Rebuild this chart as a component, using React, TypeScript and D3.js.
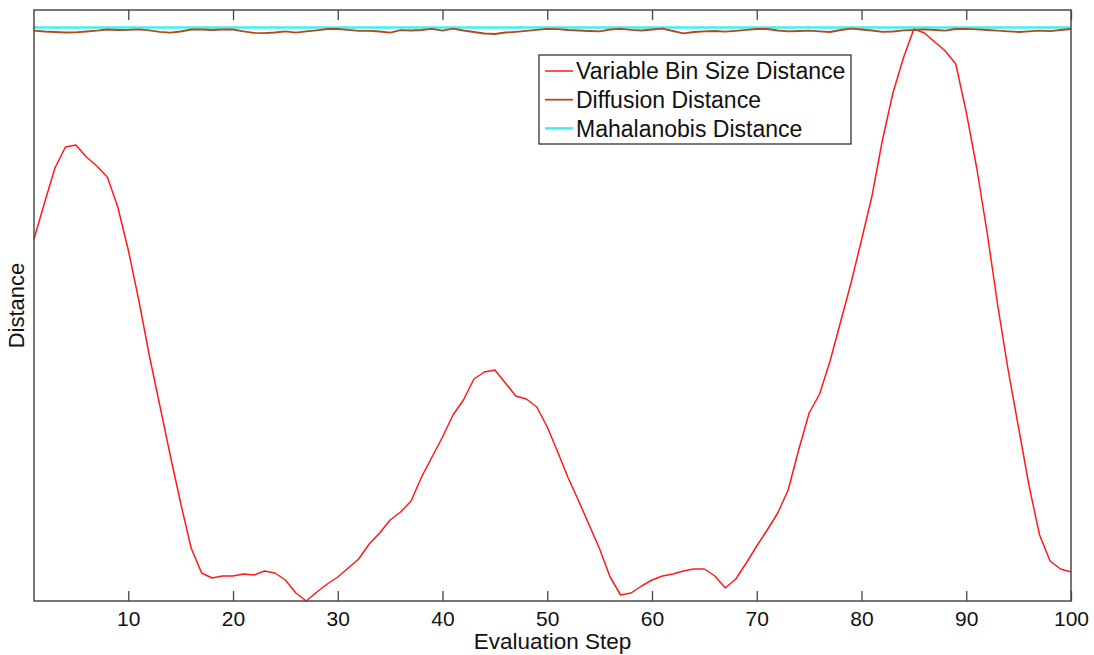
import React, { useEffect, useRef } from "react";
import * as d3 from "d3";

// Evaluation steps 1..100 (arbitrary distance units)
const variableBinSize = [
  362, 398, 433, 454, 456, 444, 435, 424, 394, 351,
  301, 246, 196, 146, 98, 53, 28, 23, 25, 25,
  27, 26, 30, 28, 21, 8, 0, 9, 17, 24,
  33, 42, 57, 68, 81, 89, 100, 124, 144, 164,
  186, 201, 222, 229, 231, 218, 205, 202, 194, 174,
  149, 123, 100, 76, 52, 24, 6, 8, 15, 21,
  25, 27, 30, 32, 32, 25, 13, 22, 38, 55,
  71, 88, 111, 151, 188, 207, 240, 279, 318, 361,
  405, 461, 508, 543, 572, 568, 559, 550, 537, 489,
  433, 368, 296, 231, 173, 115, 66, 40, 32, 29,
];

const diffusion = [
  570.3, 569.5, 569, 568.5, 568.7, 569.5, 570.3, 571.5, 571, 571.2,
  571.7, 570.7, 569.2, 568.3, 569.5, 571.5, 571.5, 571, 571.5, 571.5,
  569.7, 568.2, 567.8, 568.5, 569.7, 568.3, 569.6, 570.7, 572, 572,
  571.2, 570.2, 570.2, 569.5, 568.3, 570.8, 570.5, 571, 572.1, 570.3,
  572.3, 570.5, 569, 567.5, 567, 568.5, 569.2, 570.1, 571.2, 572.2,
  571.8, 571, 570.5, 570, 569.7, 571.5, 572.2, 571.2, 570.5, 571.5,
  572.3, 570, 567.7, 569, 569.7, 570, 569.3, 570.2, 571.2, 572,
  572, 570.5, 569.7, 570, 570.3, 569.7, 569, 571, 572.3, 571.5,
  570.5, 569.2, 569.5, 570.7, 571, 571.7, 571, 570.3, 572, 572.2,
  571.7, 571, 570.3, 569.7, 569, 569.7, 570.3, 569.8, 571, 572,
];

const mahalanobis = [
  573.5, 573.5, 573.5, 573.5, 573.5, 573.5, 573.5, 573.5, 573.5, 573.5,
  573.5, 573.5, 573.5, 573.5, 573.5, 573.5, 573.5, 573.5, 573.5, 573.5,
  573.5, 573.5, 573.5, 573.5, 573.5, 573.5, 573.5, 573.5, 573.5, 573.5,
  573.5, 573.5, 573.5, 573.5, 573.5, 573.5, 573.5, 573.5, 573.5, 573.5,
  573.5, 573.5, 573.5, 573.5, 573.5, 573.5, 573.5, 573.5, 573.5, 573.5,
  573.5, 573.5, 573.5, 573.5, 573.5, 573.5, 573.5, 573.5, 573.5, 573.5,
  573.5, 573.5, 573.5, 573.5, 573.5, 573.5, 573.5, 573.5, 573.5, 573.5,
  573.5, 573.5, 573.5, 573.5, 573.5, 573.5, 573.5, 573.5, 573.5, 573.5,
  573.5, 573.5, 573.5, 573.5, 573.5, 573.5, 573.5, 573.5, 573.5, 573.5,
  573.5, 573.5, 573.5, 573.5, 573.5, 573.5, 573.5, 573.5, 573.5, 573.5,
];

const xTicks = [10, 20, 30, 40, 50, 60, 70, 80, 90, 100];

const seriesNames = [
  "Variable Bin Size Distance",
  "Diffusion Distance",
  "Mahalanobis Distance",
];
const seriesColors = ["#ff1a1a", "#b04a1c", "#40f0f0"];
const seriesWidths = [1.5, 1.8, 2.5];

const FONT = "'Liberation Sans', Arial, Helvetica, sans-serif";

export default function App() {
  const svgRef = useRef<SVGSVGElement>(null);

  useEffect(() => {
    const width = 1094;
    const height = 655;
    const margin = { top: 10, right: 23, bottom: 54, left: 34 };
    const innerW = width - margin.left - margin.right;
    const innerH = height - margin.top - margin.bottom;

    const svg = d3.select(svgRef.current);
    svg.selectAll("*").remove();
    svg.attr("width", width).attr("height", height);

    const g = svg
      .append("g")
      .attr("transform", `translate(${margin.left},${margin.top})`);

    const x = d3.scaleLinear().domain([1, 100]).range([0, innerW]);
    const y = d3.scaleLinear().domain([0, 591]).range([innerH, 0]);

    const line = d3
      .line<number>()
      .x((d, i) => x(i + 1))
      .y((d) => y(d));

    // draw Mahalanobis first so the diffusion wiggle sits on it
    const drawOrder = [2, 0, 1];
    const allSeries = [variableBinSize, diffusion, mahalanobis];
    drawOrder.forEach((k) => {
      g.append("path")
        .datum(allSeries[k])
        .attr("d", line)
        .attr("fill", "none")
        .attr("stroke", seriesColors[k])
        .attr("stroke-width", seriesWidths[k])
        .attr("stroke-linejoin", "round");
    });

    // bottom axis with inward ticks
    const xAxis = g
      .append("g")
      .attr("transform", `translate(0,${innerH})`)
      .call(
        d3
          .axisBottom(x)
          .tickValues(xTicks)
          .tickSize(-10)
          .tickPadding(10)
          .tickFormat(d3.format("d"))
      );
    xAxis.select(".domain").remove();
    xAxis.selectAll(".tick line").attr("stroke", "#444").attr("stroke-width", 1.3);
    xAxis
      .selectAll("text")
      .attr("fill", "#111")
      .style("font-family", FONT)
      .style("font-size", "21px");

    // top axis ticks, no labels
    const topAxis = g
      .append("g")
      .call(d3.axisTop(x).tickValues(xTicks).tickSize(-10).tickFormat(() => ""));
    topAxis.select(".domain").remove();
    topAxis.selectAll(".tick line").attr("stroke", "#444").attr("stroke-width", 1.3);

    // frame
    g.append("rect")
      .attr("x", 0)
      .attr("y", 0)
      .attr("width", innerW)
      .attr("height", innerH)
      .attr("fill", "none")
      .attr("stroke", "#4a4a4a")
      .attr("stroke-width", 1.5);

    // axis labels
    svg
      .append("text")
      .attr("x", margin.left + innerW / 2)
      .attr("y", 649)
      .attr("text-anchor", "middle")
      .style("font-family", FONT)
      .style("font-size", "22.5px")
      .attr("fill", "#111")
      .text("Evaluation Step");

    svg
      .append("text")
      .attr("transform", `translate(24,${margin.top + innerH / 2}) rotate(-90)`)
      .attr("text-anchor", "middle")
      .style("font-family", FONT)
      .style("font-size", "22px")
      .attr("fill", "#111")
      .text("Distance");

    // legend
    const legend = svg.append("g").attr("transform", "translate(539,55)");
    legend
      .append("rect")
      .attr("width", 312)
      .attr("height", 89)
      .attr("fill", "#fff")
      .attr("stroke", "#333")
      .attr("stroke-width", 1.3);

    const items = legend
      .selectAll(".legend-item")
      .data(seriesNames)
      .enter()
      .append("g")
      .attr("class", "legend-item")
      .attr("transform", (d, i) => `translate(0,${16 + i * 28.7})`);

    items
      .append("line")
      .attr("x1", 6)
      .attr("x2", 34)
      .attr("stroke", (d, i) => seriesColors[i])
      .attr("stroke-width", (d, i) => seriesWidths[i]);

    items
      .append("text")
      .attr("x", 37)
      .attr("dy", "0.36em")
      .style("font-family", FONT)
      .style("font-size", "23px")
      .attr("fill", "#111")
      .text((d) => d);
  }, []);

  return (
    <div style={{ position: "absolute", left: 0, top: 0 }}>
      <svg ref={svgRef} style={{ display: "block", background: "#fff" }}></svg>
    </div>
  );
}
